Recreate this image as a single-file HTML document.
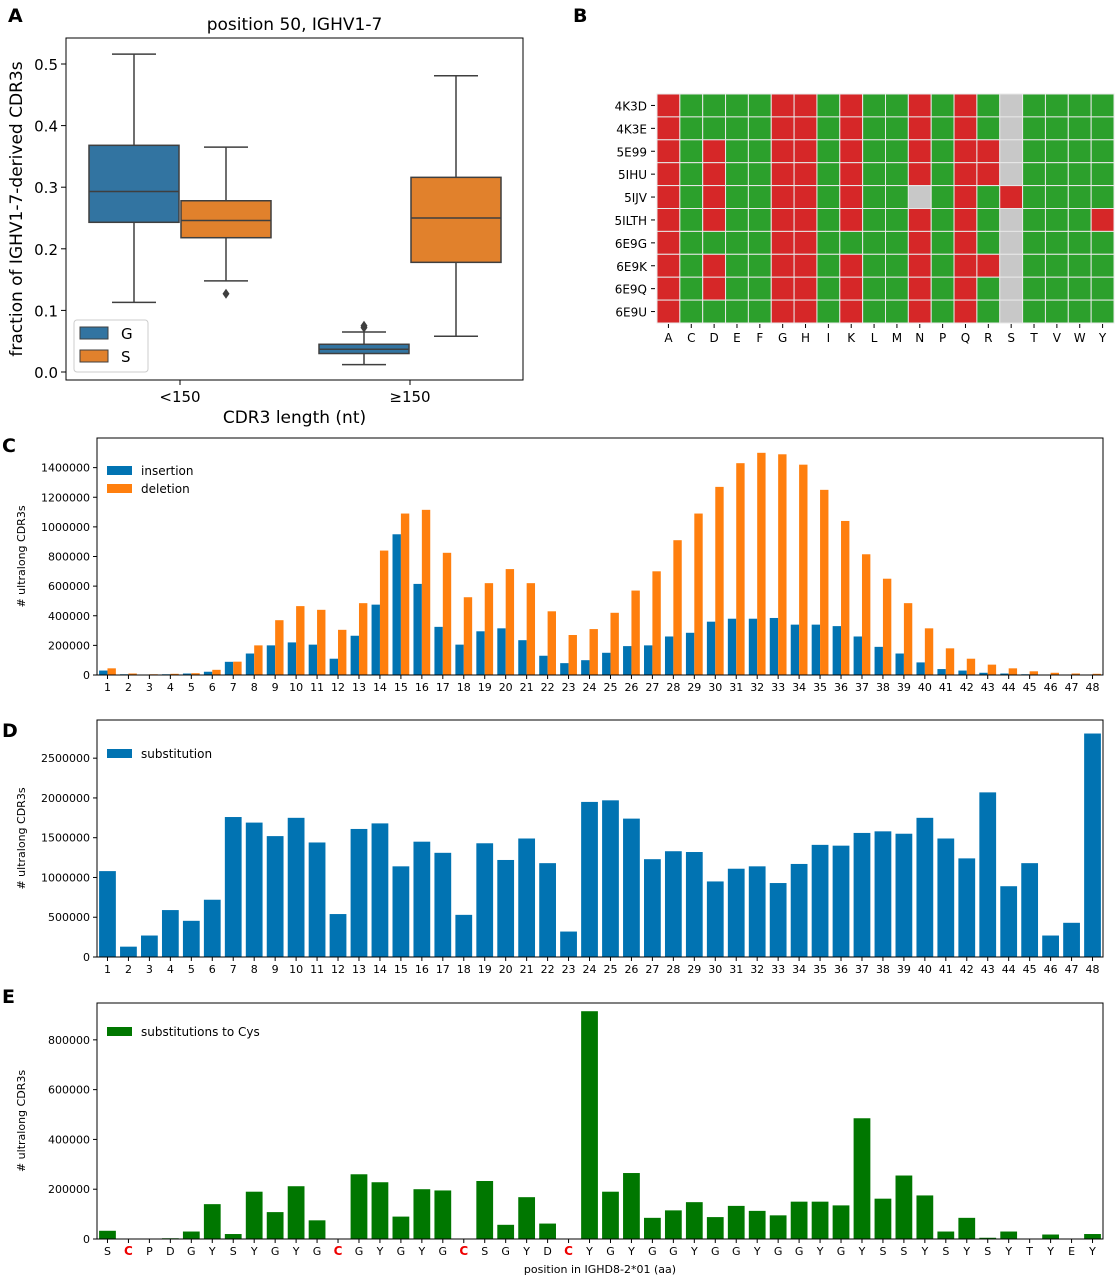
<!DOCTYPE html>
<html><head><meta charset="utf-8">
<style>
html,body{margin:0;padding:0;background:#fff;}
svg{display:block;font-family:"DejaVu Sans","Liberation Sans",sans-serif;}
</style></head>
<body>
<svg id="fig" width="1118" height="1280" viewBox="0 0 1118 1280"></svg>
<script>
// ---------- Panel A data ----------
const boxCats = ["<150", "\u2265150"];
const boxHue = ["G", "S"];
const boxQ1 = [[0.243, 0.218], [0.030, 0.178]];
const boxMed = [[0.293, 0.246], [0.037, 0.250]];
const boxQ3 = [[0.368, 0.278], [0.045, 0.316]];
const boxLo = [[0.113, 0.148], [0.012, 0.058]];
const boxHi = [[0.516, 0.365], [0.065, 0.481]];
const boxOut = [[[], [0.127]], [[0.072, 0.075], []]];
const aTicks = [0.0, 0.1, 0.2, 0.3, 0.4, 0.5];
// ---------- Panel B data ----------
const hmRows = ["4K3D","4K3E","5E99","5IHU","5IJV","5ILTH","6E9G","6E9K","6E9Q","6E9U"];
const hmCols = ["A","C","D","E","F","G","H","I","K","L","M","N","P","Q","R","S","T","V","W","Y"];
// 1=red, 0=green, 2=gray
const hmVals = [
"10000110100101020000",
"10000110100101020000",
"10100110100101120000",
"10100110100101120000",
"10100110100201010000",
"10100110100101020001",
"10000110000101020000",
"10100110100101120000",
"10100110100101020000",
"10000110100101020000"];
// ---------- Panel C data ----------
const posCats = Array.from({length:48},(_,i)=>String(i+1));
const insertion = [30000,5000,2000,5000,10000,22000,89000,145000,200000,220000,205000,110000,265000,475000,950000,615000,325000,205000,295000,315000,235000,130000,80000,100000,150000,195000,200000,260000,285000,360000,380000,380000,385000,340000,340000,330000,260000,190000,145000,85000,40000,30000,15000,10000,5000,3000,2000,2000];
const deletion = [45000,10000,5000,8000,12000,35000,90000,200000,370000,465000,440000,305000,485000,840000,1090000,1115000,825000,525000,620000,715000,620000,430000,270000,310000,420000,570000,700000,910000,1090000,1270000,1430000,1500000,1490000,1420000,1250000,1040000,815000,650000,485000,315000,180000,110000,70000,45000,25000,15000,10000,8000];
const cTicks = [0,200000,400000,600000,800000,1000000,1200000,1400000];
// ---------- Panel D data ----------
const substitution = [1080000,130000,270000,590000,455000,720000,1760000,1690000,1520000,1750000,1440000,540000,1610000,1680000,1140000,1450000,1310000,530000,1430000,1220000,1490000,1180000,320000,1950000,1970000,1740000,1230000,1330000,1320000,950000,1110000,1140000,930000,1170000,1410000,1400000,1560000,1580000,1550000,1750000,1490000,1240000,2070000,890000,1180000,270000,430000,2810000];
const dTicks = [0,500000,1000000,1500000,2000000,2500000];
// ---------- Panel E data ----------
const aaCats = "S C P D G Y S Y G Y G C G Y G Y G C S G Y D C Y G Y G G Y G G Y G G Y G Y S S Y S Y S Y T Y E Y".split(" ");
const cysSubs = [33000,2000,2000,3000,30000,140000,20000,190000,108000,212000,75000,0,260000,228000,90000,200000,195000,0,233000,57000,168000,62000,0,915000,190000,265000,85000,115000,148000,88000,133000,113000,95000,150000,150000,135000,485000,162000,255000,175000,30000,85000,5000,30000,2000,18000,2000,20000];
const eTicks = [0,200000,400000,600000,800000];

const NS="http://www.w3.org/2000/svg";
const svg=document.getElementById('fig');
function mk(tag,attrs,parent,text){const e=document.createElementNS(NS,tag);for(const k in attrs)e.setAttribute(k,attrs[k]);if(text!==undefined)e.textContent=text;(parent||svg).appendChild(e);return e;}
function grp(name){const g=document.createElementNS(NS,'g');


svg.appendChild(g);return g;}

// panel letters
[["A",8,22],["B",573,22],["C",2,452],["D",2,737],["E",2,1003]].forEach(([t,x,y])=>{
 const e=mk('text',{x:x,y:y,'font-size':19,'font-weight':'bold'},svg,t);
 
 
});

// ---------- Panel A ----------
(function(){
 const g=grp('panel-a-boxplot');
 const L=66,R=523,T=38,B=380;
 const y=v=>372-v*616;
 const catX=[180,410];
 const cols=['#3274a1','#e1812c'];
 mk('text',{x:(L+R)/2,y:30,'font-size':17,'text-anchor':'middle'},g,'position 50, IGHV1-7');
 aTicks.forEach(t=>{mk('line',{x1:L-5,x2:L,y1:y(t),y2:y(t),stroke:'#000'},g);
  const e=mk('text',{x:L-8,y:y(t)+6,'font-size':15,'text-anchor':'end'},g,t.toFixed(1));
  });
 boxCats.forEach((c,ci)=>{
  mk('line',{x1:catX[ci],x2:catX[ci],y1:B,y2:B+5,stroke:'#000'},g);
  const e=mk('text',{x:catX[ci],y:B+22,'font-size':15,'text-anchor':'middle'},g,c);
  
  boxHue.forEach((h,hi)=>{
   const x0=catX[ci]-91+hi*92, w=90, xc=x0+w/2, stroke='#3f3f3f';
   const bg=mk('g',{},g);
   
   
   mk('line',{x1:xc,x2:xc,y1:y(boxHi[ci][hi]),y2:y(boxQ3[ci][hi]),stroke:stroke,'stroke-width':1.5},bg);
   mk('line',{x1:xc,x2:xc,y1:y(boxQ1[ci][hi]),y2:y(boxLo[ci][hi]),stroke:stroke,'stroke-width':1.5},bg);
   mk('line',{x1:xc-22,x2:xc+22,y1:y(boxHi[ci][hi]),y2:y(boxHi[ci][hi]),stroke:stroke,'stroke-width':1.5},bg);
   mk('line',{x1:xc-22,x2:xc+22,y1:y(boxLo[ci][hi]),y2:y(boxLo[ci][hi]),stroke:stroke,'stroke-width':1.5},bg);
   mk('rect',{x:x0,y:y(boxQ3[ci][hi]),width:w,height:y(boxQ1[ci][hi])-y(boxQ3[ci][hi]),fill:cols[hi],stroke:stroke,'stroke-width':1.5},bg);
   mk('line',{x1:x0,x2:x0+w,y1:y(boxMed[ci][hi]),y2:y(boxMed[ci][hi]),stroke:stroke,'stroke-width':1.5},bg);
   boxOut[ci][hi].forEach(o=>mk('path',{d:`M${xc} ${y(o)-5}L${xc+3.5} ${y(o)}L${xc} ${y(o)+5}L${xc-3.5} ${y(o)}Z`,fill:stroke},bg));
  });
 });
 mk('rect',{x:L,y:T,width:R-L,height:B-T,fill:'none',stroke:'#000','stroke-width':1},g);
 const xl=mk('text',{x:(L+R)/2,y:423,'font-size':17,'text-anchor':'middle'},g,'CDR3 length (nt)');
 
 const yl=mk('text',{x:0,y:0,'font-size':17,'text-anchor':'middle',transform:`translate(22,${(T+B)/2}) rotate(-90)`},g,'fraction of IGHV1-7-derived CDR3s');
 
 const lg=mk('g',{},g);
 mk('rect',{x:74,y:320,width:74,height:52,fill:'#fff',stroke:'#ccc',rx:3},lg);
 boxHue.forEach((h,i)=>{mk('rect',{x:80,y:327+i*23,width:28,height:12,fill:cols[i],stroke:'#3f3f3f'},lg);
  mk('text',{x:121,y:339+i*23,'font-size':15},lg,h);});
})();

// ---------- Panel B ----------
(function(){
 const g=grp('panel-b-heatmap');
 const L=657,T=94,cw=22.85,ch=22.9;
 const colr={'1':'#d62728','0':'#2ca02c','2':'#c8c8c8'};
 hmRows.forEach((r,ri)=>{
  const e=mk('text',{x:L-10,y:T+ri*ch+ch/2+5,'font-size':12,'text-anchor':'end'},g,r);
  
  mk('line',{x1:L-6,x2:L-2,y1:T+ri*ch+ch/2,y2:T+ri*ch+ch/2,stroke:'#000'},g);
  hmCols.forEach((c,ci)=>{
   const rc=mk('rect',{x:L+ci*cw,y:T+ri*ch,width:cw,height:ch,fill:colr[hmVals[ri][ci]],stroke:'#e8e8e8','stroke-width':1},g);
   
   
  });
 });
 hmCols.forEach((c,ci)=>{
  mk('line',{x1:L+ci*cw+cw/2,x2:L+ci*cw+cw/2,y1:T+10*ch+1,y2:T+10*ch+5,stroke:'#000'},g);
  const e=mk('text',{x:L+ci*cw+cw/2,y:T+10*ch+19,'font-size':12,'text-anchor':'middle'},g,c);
  
 });
})();

// ---------- Bar panel helper ----------
function barPanel(name,T,B,maxV,ticks,series,colors,labels,cats,legendY,xtitle){
 const g=grp(name);
 const L=97,R=1103;
 const n=cats.length, step=(R-L)/n;
 const y=v=>B-v/maxV*(B-T);
 ticks.forEach(t=>{mk('line',{x1:L-4,x2:L,y1:y(t),y2:y(t),stroke:'#000'},g);
  const e=mk('text',{x:L-7,y:y(t)+4,'font-size':11,'text-anchor':'end'},g,String(t));
  });
 const ns=series.length, bw=step*0.8/ns;
 series.forEach((s,si)=>{
  s.forEach((v,i)=>{
   const x=L+i*step+step*0.1+si*bw;
   const r=mk('rect',{x:x,y:y(v),width:bw,height:B-y(v),fill:colors[si]},g);
   
   
  });
 });
 cats.forEach((c,i)=>{
  const xc=L+i*step+step/2;
  mk('line',{x1:xc,x2:xc,y1:B,y2:B+4,stroke:'#000'},g);
  const red=(c==='C'&&xtitle);
  const e=mk('text',{x:xc,y:B+16,'font-size':red?12:11,'text-anchor':'middle',fill:red?'#e00':'#000','font-weight':red?'bold':'normal'},g,c);
  
 });
 mk('rect',{x:L,y:T,width:R-L,height:B-T,fill:'none',stroke:'#000','stroke-width':1},g);
 const yl=mk('text',{x:0,y:0,'font-size':11,'text-anchor':'middle',transform:`translate(25,${(T+B)/2}) rotate(-90)`},g,'# ultralong CDR3s');
 
 const lg=mk('g',{},g);
 labels.forEach((l,i)=>{mk('rect',{x:107,y:legendY+i*18-6,width:25,height:9,fill:colors[i]},lg);
  mk('text',{x:141,y:legendY+i*18+3,'font-size':12},lg,l);});
 if(xtitle){const e=mk('text',{x:(L+R)/2,y:1273,'font-size':11,'text-anchor':'middle'},g,xtitle);
  }
}
barPanel('panel-c-indel-bars',438,675,1600000,cTicks,[insertion,deletion],['#0173b2','#ff7f0e'],['insertion','deletion'],posCats,472,null);
barPanel('panel-d-substitution-bars',720,957,2980000,dTicks,[substitution],['#0173b2'],['substitution'],posCats,755,null);
barPanel('panel-e-cys-bars',1003,1239,948000,eTicks,[cysSubs],['#007700'],['substitutions to Cys'],aaCats,1033,'position in IGHD8-2*01 (aa)');
</script>
</body></html>
